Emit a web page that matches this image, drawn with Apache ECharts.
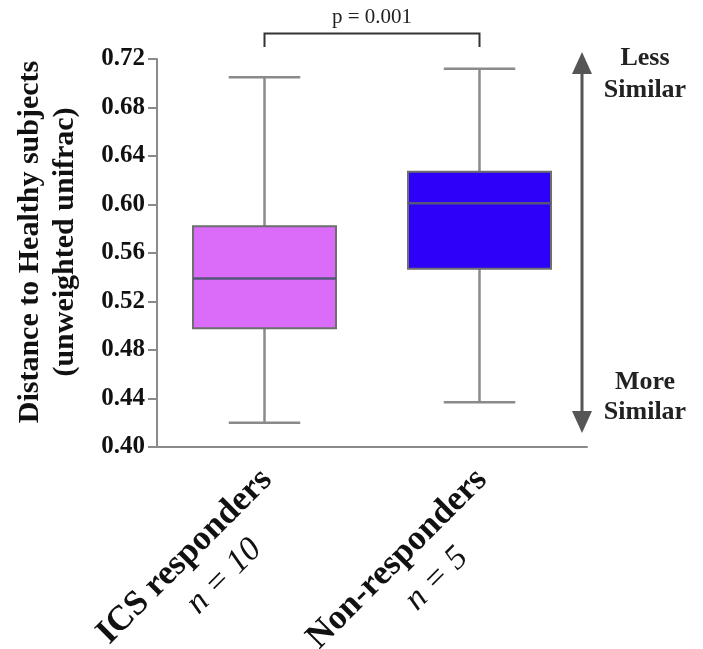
<!DOCTYPE html>
<html>
<head>
<meta charset="utf-8">
<script src="https://cdn.jsdelivr.net/npm/echarts@6/dist/echarts.min.js"></script>
<style>
  html, body { margin: 0; padding: 0; background: #ffffff; }
  #chart { width: 703px; height: 649px; }
</style>
</head>
<body>
<div id="chart"></div>
<script>
// Groups and box-plot summary statistics (distance to healthy subjects)
const groups = ['ICS responders', 'Non-responders'];
const groupN = [10, 5];
const whiskerLow = [0.420, 0.437];
const q1 = [0.498, 0.547];
const median = [0.539, 0.601];
const q3 = [0.582, 0.627];
const whiskerHigh = [0.705, 0.712];
const boxColors = ['#DA6CF9', '#2E00FA'];

// Value axis range and step
const yMin = 0.40;
const yMax = 0.72;
const yStep = 0.04;

// Significance bracket between the two groups
const pLabel = 'p = 0.001';
const bracketLevel = 0.741;
const bracketFoot = 0.730;

const SERIF = '"Liberation Serif", "Times New Roman", serif';
const GREY = '#8a8a8a';

const chart = echarts.init(document.getElementById('chart'), null, { renderer: 'canvas' });

function renderBox(params, api) {
  const i = api.value(0);
  const lo = api.coord([i, api.value(1)]);
  const b1 = api.coord([i, api.value(2)]);
  const md = api.coord([i, api.value(3)]);
  const b3 = api.coord([i, api.value(4)]);
  const hi = api.coord([i, api.value(5)]);
  const band = api.size([1, 0])[0];
  const w = band * 0.665;
  const cap = w / 2;
  const x = lo[0];
  const wStyle = { stroke: GREY, lineWidth: 2.5 };
  return {
    type: 'group',
    children: [
      { type: 'line', shape: { x1: x, y1: hi[1], x2: x, y2: b3[1] }, style: wStyle },
      { type: 'line', shape: { x1: x, y1: b1[1], x2: x, y2: lo[1] }, style: wStyle },
      { type: 'line', shape: { x1: x - cap / 2, y1: hi[1], x2: x + cap / 2, y2: hi[1] }, style: wStyle },
      { type: 'line', shape: { x1: x - cap / 2, y1: lo[1], x2: x + cap / 2, y2: lo[1] }, style: wStyle },
      {
        type: 'rect',
        shape: { x: x - w / 2, y: b3[1], width: w, height: b1[1] - b3[1] },
        style: { fill: boxColors[i], stroke: '#6e6e6e', lineWidth: 2 }
      },
      {
        type: 'line',
        shape: { x1: x - w / 2, y1: md[1], x2: x + w / 2, y2: md[1] },
        style: { stroke: '#55557a', lineWidth: 2.5 }
      }
    ]
  };
}

function renderBracket(params, api) {
  const a = api.coord([api.value(0), api.value(2)]);
  const b = api.coord([api.value(1), api.value(2)]);
  const foot = api.coord([api.value(0), api.value(3)]);
  const st = { stroke: '#333333', lineWidth: 2, fill: null };
  return {
    type: 'group',
    children: [
      {
        type: 'polyline',
        shape: { points: [[a[0], foot[1]], [a[0], a[1]], [b[0], b[1]], [b[0], foot[1]]] },
        style: st
      },
      {
        type: 'text',
        style: {
          x: (a[0] + b[0]) / 2, y: a[1] - 6,
          text: pLabel, fill: '#222222',
          font: '21px ' + SERIF, textAlign: 'center', textVerticalAlign: 'bottom'
        }
      }
    ]
  };
}

const boxData = groups.map((g, i) => [i, whiskerLow[i], q1[i], median[i], q3[i], whiskerHigh[i]]);

chart.setOption({
  animation: false,
  backgroundColor: '#ffffff',
  grid: { left: 157, right: 116, top: 59, bottom: 202, containLabel: false, outerBoundsMode: 'none' },
  xAxis: {
    type: 'category',
    data: groups,
    axisLine: { lineStyle: { color: GREY, width: 2 } },
    axisTick: { alignWithLabel: true, length: 8, lineStyle: { color: GREY, width: 2 } },
    axisLabel: {
      interval: 0,
      rotate: 45,
      margin: 20,
      padding: [56, 4, 0, 0],
      formatter: (v, idx) => '{a|' + v + '}\n{b|n = ' + groupN[idx] + '}',
      rich: {
        a: { fontFamily: SERIF, fontWeight: 'bold', fontSize: 35, lineHeight: 42, color: '#111', align: 'center' },
        b: { fontFamily: SERIF, fontStyle: 'italic', fontSize: 34, lineHeight: 42, color: '#111', align: 'center', padding: [0, 0, 0, 28] }
      }
    },
    splitLine: { show: false }
  },
  yAxis: {
    type: 'value',
    min: yMin,
    max: yMax,
    interval: yStep,
    name: 'Distance to Healthy subjects\n(unweighted unifrac)',
    nameLocation: 'middle',
    nameRotate: 90,
    nameGap: 74,
    nameTextStyle: {
      fontFamily: SERIF, fontWeight: 'bold', fontSize: 30, lineHeight: 35,
      color: '#111', align: 'center', padding: [0, 0, 0, 22]
    },
    axisLine: { show: true, lineStyle: { color: GREY, width: 2 } },
    axisTick: { show: true, length: 9, lineStyle: { color: GREY, width: 2 } },
    axisLabel: {
      margin: 12,
      fontFamily: SERIF, fontWeight: 'bold', fontSize: 25, color: '#111',
      formatter: v => v.toFixed(2)
    },
    splitLine: { show: false }
  },
  series: [
    {
      type: 'custom',
      renderItem: renderBox,
      encode: { x: 0, y: [1, 2, 3, 4, 5] },
      data: boxData,
      z: 3
    },
    {
      type: 'custom',
      renderItem: renderBracket,
      clip: false,
      encode: { x: [0, 1], y: [2, 3] },
      data: [[0, 1, bracketLevel, bracketFoot]],
      z: 4
    }
  ],
  graphic: [
    // Double-headed "similarity" arrow on the right
    { type: 'line', shape: { x1: 582, y1: 68, x2: 582, y2: 417 }, style: { stroke: '#555555', lineWidth: 3 } },
    { type: 'polygon', shape: { points: [[582, 52], [572, 74], [592, 74]] }, style: { fill: '#555555' } },
    { type: 'polygon', shape: { points: [[582, 433], [572, 411], [592, 411]] }, style: { fill: '#555555' } },
    { type: 'text', style: { x: 645, y: 58, text: 'Less', font: 'bold 26px ' + SERIF, fill: '#222', textAlign: 'center', textVerticalAlign: 'middle' } },
    { type: 'text', style: { x: 645, y: 90, text: 'Similar', font: 'bold 26px ' + SERIF, fill: '#222', textAlign: 'center', textVerticalAlign: 'middle' } },
    { type: 'text', style: { x: 645, y: 382, text: 'More', font: 'bold 26px ' + SERIF, fill: '#222', textAlign: 'center', textVerticalAlign: 'middle' } },
    { type: 'text', style: { x: 645, y: 412, text: 'Similar', font: 'bold 26px ' + SERIF, fill: '#222', textAlign: 'center', textVerticalAlign: 'middle' } }
  ]
});
</script>
</body>
</html>
